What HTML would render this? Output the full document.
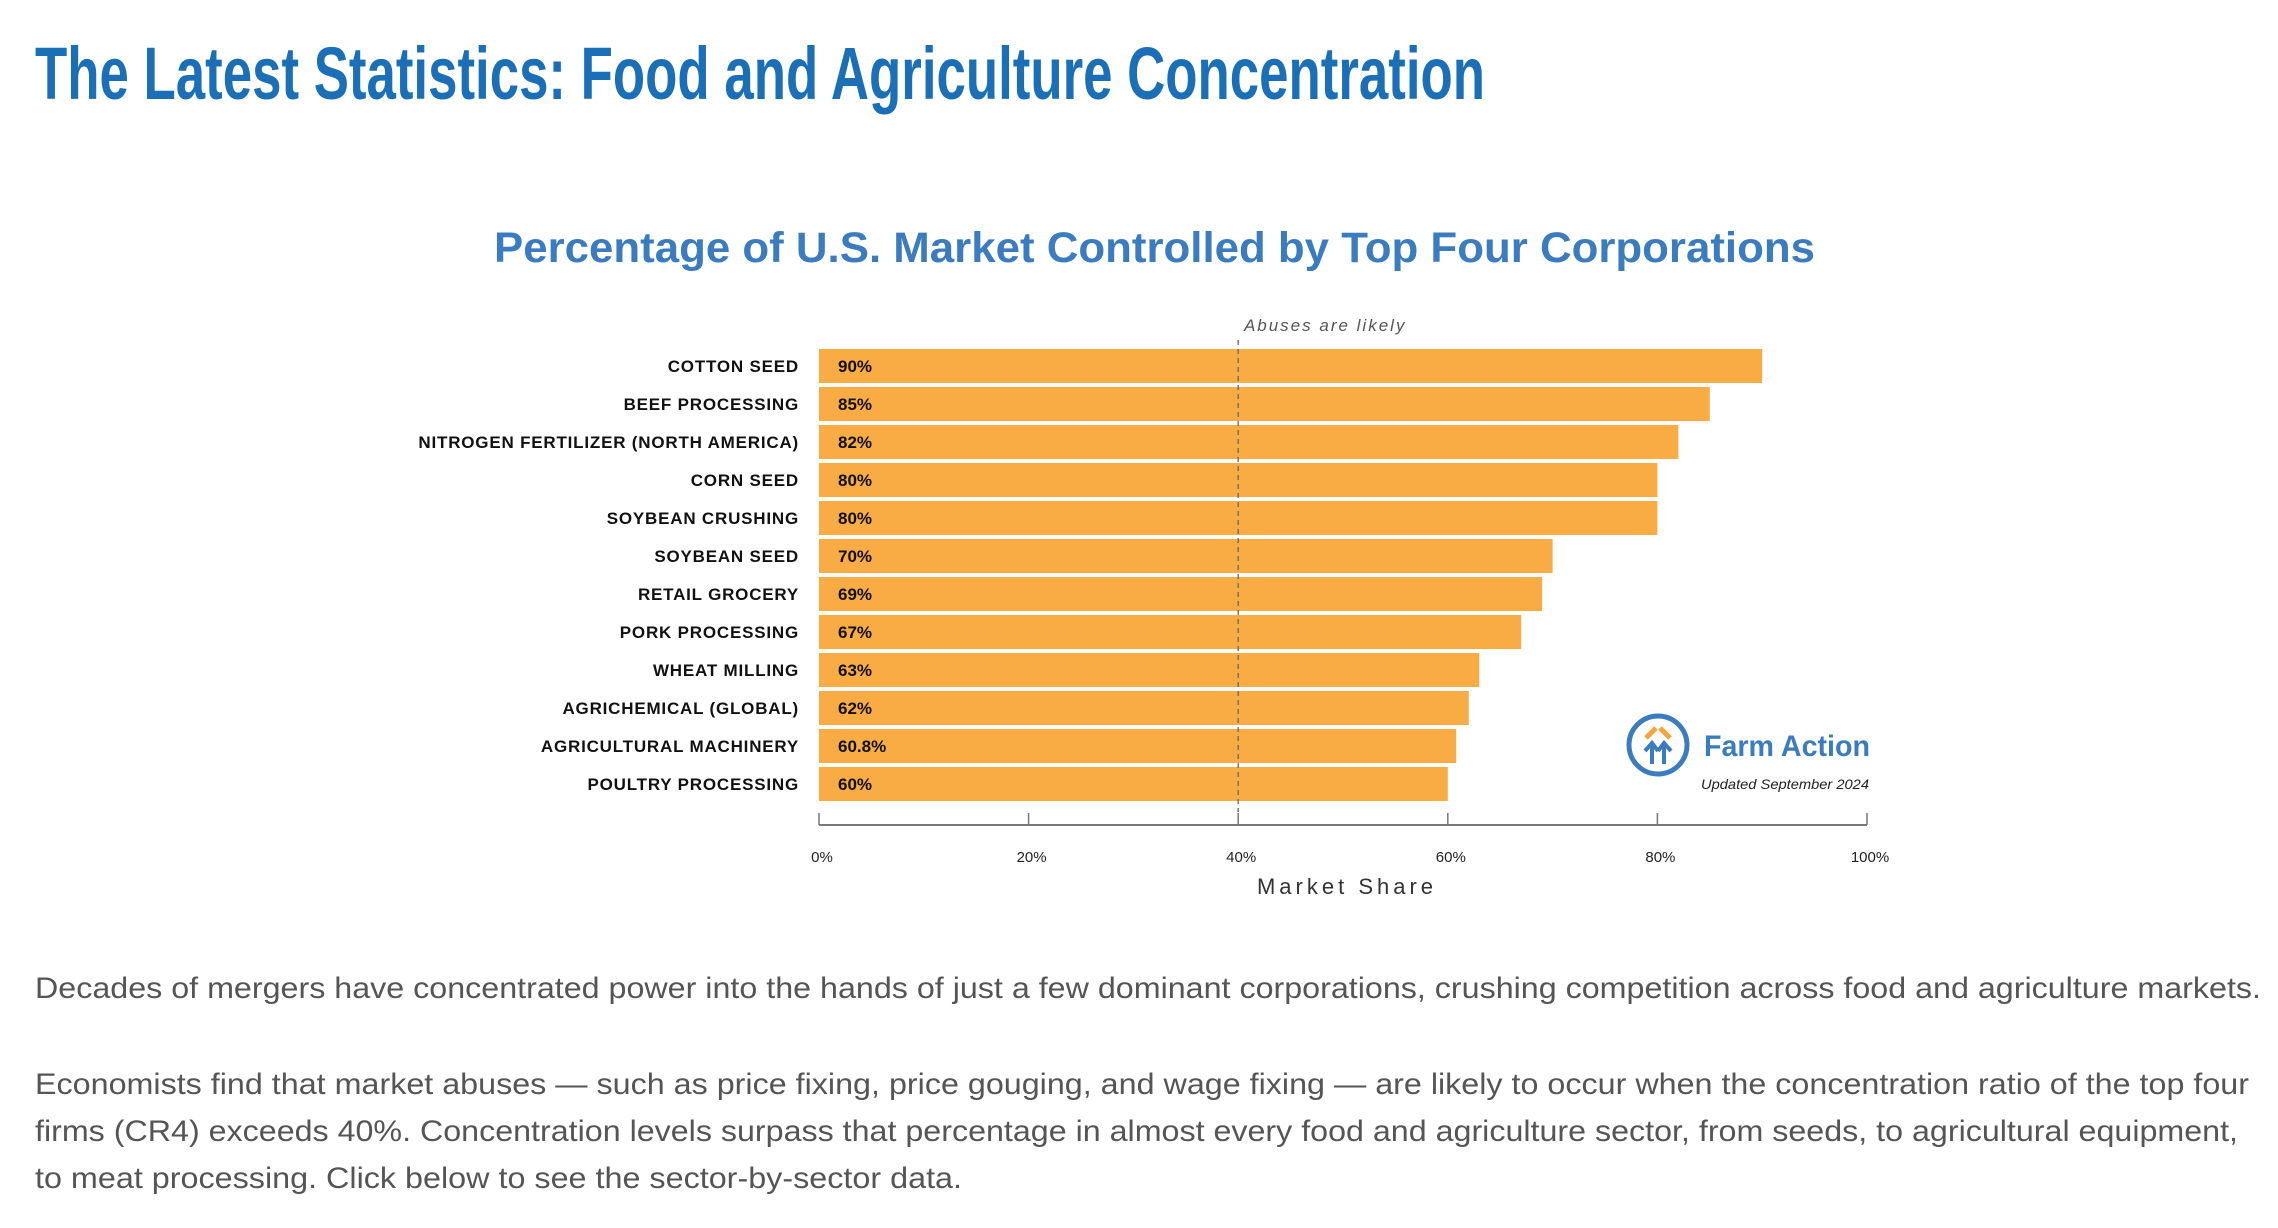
<!DOCTYPE html>
<html><head><meta charset="utf-8"><style>
html,body{margin:0;padding:0;background:#fff;width:2278px;height:1228px;overflow:hidden}
svg{display:block}
</style></head><body>
<svg id="page" width="2278" height="1228" viewBox="0 0 2278 1228" xmlns="http://www.w3.org/2000/svg">
<text x="35" y="99" font-family="Liberation Sans, sans-serif" font-weight="bold" font-size="74" fill="#1a6fb6" textLength="1450" lengthAdjust="spacingAndGlyphs">The Latest Statistics: Food and Agriculture Concentration</text>
<text x="494" y="262" font-family="Liberation Sans, sans-serif" font-weight="bold" font-size="43" fill="#3b7cc0" textLength="1321" lengthAdjust="spacingAndGlyphs">Percentage of U.S. Market Controlled by Top Four Corporations</text>
<g id="chart"></g>
<g>
<circle cx="1658" cy="745" r="29" fill="none" stroke="#3b7cc0" stroke-width="5"/>
<path d="M1646 738 L1656 728 M1660 728 L1670 738" fill="none" stroke="#f5a53a" stroke-width="5"/>
<path d="M1652 764 L1652 744 M1645 751 L1652 743 L1658 751 M1664 764 L1664 744 M1658 751 L1664 743 L1671 751" fill="none" stroke="#3b7cc0" stroke-width="4"/>
<text x="1704" y="756" font-family="Liberation Sans, sans-serif" font-weight="bold" font-size="30" fill="#3b7cc0" textLength="166" lengthAdjust="spacingAndGlyphs">Farm Action</text>
<text x="1701" y="789" font-family="Liberation Sans, sans-serif" font-style="italic" font-size="14" fill="#222" textLength="168" lengthAdjust="spacingAndGlyphs">Updated September 2024</text>
</g>
<g font-family="Liberation Sans, sans-serif" font-size="30" fill="#555">
<text x="35" y="998" textLength="2226" lengthAdjust="spacingAndGlyphs">Decades of mergers have concentrated power into the hands of just a few dominant corporations, crushing competition across food and agriculture markets.</text>
<text x="35" y="1094" textLength="2214" lengthAdjust="spacingAndGlyphs">Economists find that market abuses — such as price fixing, price gouging, and wage fixing — are likely to occur when the concentration ratio of the top four</text>
<text x="35" y="1141" textLength="2203" lengthAdjust="spacingAndGlyphs">firms (CR4) exceeds 40%. Concentration levels surpass that percentage in almost every food and agriculture sector, from seeds, to agricultural equipment,</text>
<text x="35" y="1188" textLength="927" lengthAdjust="spacingAndGlyphs">to meat processing. Click below to see the sector-by-sector data.</text>
</g>
</svg>
<script>
const categories = ["COTTON SEED","BEEF PROCESSING","NITROGEN FERTILIZER (NORTH AMERICA)","CORN SEED","SOYBEAN CRUSHING","SOYBEAN SEED","RETAIL GROCERY","PORK PROCESSING","WHEAT MILLING","AGRICHEMICAL (GLOBAL)","AGRICULTURAL MACHINERY","POULTRY PROCESSING"];
const values = [90,85,82,80,80,70,69,67,63,62,60.8,60];
const valueLabels = ["90%","85%","82%","80%","80%","70%","69%","67%","63%","62%","60.8%","60%"];
const ticks = [0,20,40,60,80,100];
const tickLabels = ["0%","20%","40%","60%","80%","100%"];
const threshold = 40;

const NS = "http://www.w3.org/2000/svg";
const chartG = document.getElementById('chart');
const X0 = 819, X1 = 1867, TOPY = 349, STEP = 38, BH = 34, AXISY = 825;
const xs = v => X0 + (X1 - X0) * v / 100;
const ys = i => TOPY + i * STEP;
function mk(tag, attrs) {
  const e = document.createElementNS(NS, tag);
  for (const k in attrs) e.setAttribute(k, attrs[k]);
  chartG.appendChild(e);
  return e;
}
categories.forEach((c, i) => {
  const r = mk('rect', {x: X0, y: ys(i), width: xs(values[i]) - X0, height: BH, fill: '#f9ab44'});
  
  
  const l = mk('text', {x: 799, y: ys(i) + BH / 2 + 6, 'text-anchor': 'end', 'font-family': 'Liberation Sans, sans-serif', 'font-weight': 'bold', 'font-size': 17, 'letter-spacing': 0.8, fill: '#111'});
  l.textContent = c;
  
  
  const v = mk('text', {x: 838, y: ys(i) + BH / 2 + 6, 'font-family': 'Liberation Sans, sans-serif', 'font-weight': 'bold', 'font-size': 17, fill: '#111'});
  v.textContent = valueLabels[i];
  
  
});
const th = mk('line', {x1: xs(threshold), x2: xs(threshold), y1: 340, y2: 812, stroke: '#666', 'stroke-width': 1.3, 'stroke-dasharray': '5 4'});


const tt = mk('text', {x: xs(threshold) + 87, y: 331, 'text-anchor': 'middle', 'font-family': 'Liberation Sans, sans-serif', 'font-style': 'italic', 'font-size': 17, 'letter-spacing': 2, fill: '#555'});
tt.textContent = 'Abuses are likely';


const ax = mk('line', {x1: X0, x2: X1, y1: AXISY, y2: AXISY, stroke: '#777', 'stroke-width': 2});


ticks.forEach((t, i) => {
  const tk = mk('line', {x1: xs(t), x2: xs(t), y1: 813, y2: AXISY, stroke: '#777', 'stroke-width': 1.5});
  
  
  const tl = mk('text', {x: xs(t) + 3, y: 862, 'text-anchor': 'middle', 'font-family': 'Liberation Sans, sans-serif', 'font-size': 15, fill: '#222'});
  tl.textContent = tickLabels[i];
  
  
});
const at = mk('text', {x: 1347, y: 894, 'text-anchor': 'middle', 'font-family': 'Liberation Sans, sans-serif', 'font-size': 22, 'letter-spacing': 4, fill: '#333'});
at.textContent = 'Market Share';


</script>
</body></html>
